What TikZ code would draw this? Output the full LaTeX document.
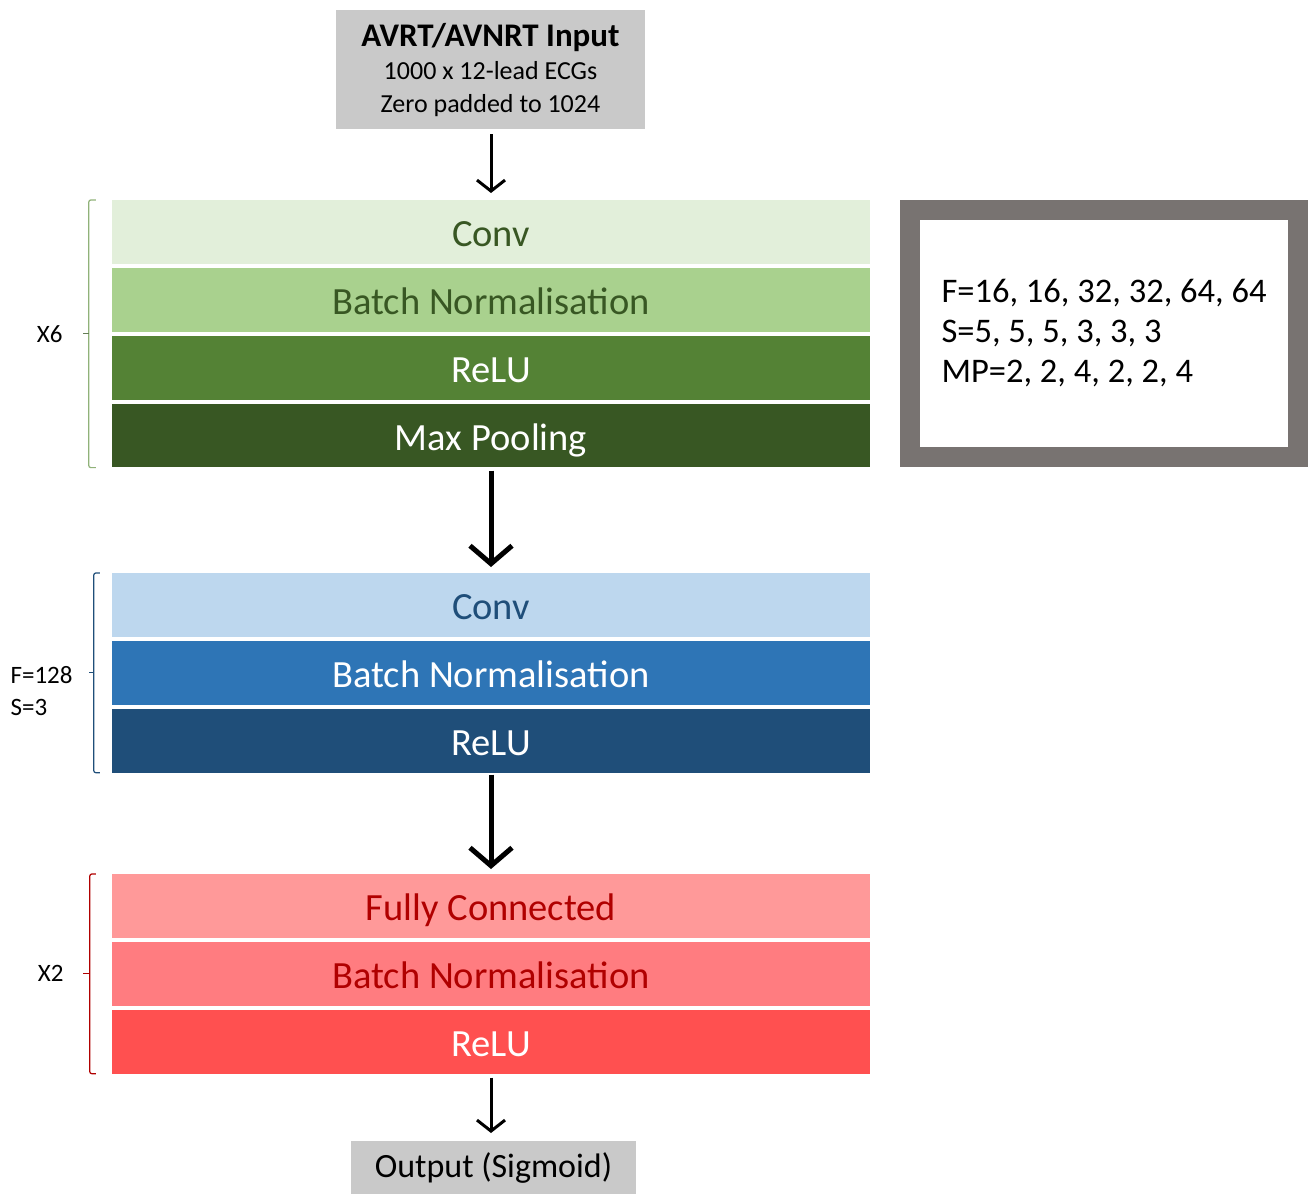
\documentclass[tikz,border=0pt]{standalone}
\usepackage{fontspec}
\setmainfont{Carlito}
\usetikzlibrary{arrows.meta, positioning, calc}
\definecolor{LightGreen}{HTML}{E2EFDA}
\definecolor{MidGreen}{HTML}{A9D18E}
\definecolor{DeepGreen}{HTML}{548235}
\definecolor{DarkGreen}{HTML}{385723}
\definecolor{LightBlue}{HTML}{BDD7EE}
\definecolor{MidBlue}{HTML}{2E75B6}
\definecolor{DarkBlue}{HTML}{1F4E79}
\definecolor{LightRed}{HTML}{FF9999}
\definecolor{MidRed}{HTML}{FF7C80}
\definecolor{DeepRed}{HTML}{FF5050}
\definecolor{DarkRed}{HTML}{B00000}
\definecolor{BoxGrey}{HTML}{C9C9C9}
\definecolor{FrameGrey}{HTML}{787371}

\begin{document}
\begin{tikzpicture}[
    x=1pt, y=-1pt,
    node distance=4pt,
    layer/.style={minimum width=758pt, minimum height=63.5pt, inner sep=0pt,
        text height=31pt, text depth=2pt, font=\fontsize{38.5}{45}\selectfont},
    io/.style={fill=BoxGrey, inner sep=0pt, align=center},
    side/.style={font=\fontsize{25}{32}\selectfont, align=left, inner sep=0pt},
    brace/.style={line width=1.2pt, rounded corners=2pt},
    thin/.style={-{Straight Barb[length=11pt, width=28pt]}, line width=3pt},
    thick/.style={-{Straight Barb[length=18pt, width=42pt]}, line width=5pt},
]
\useasboundingbox (0,0) rectangle (1315,1194);

% input
\node[io, minimum width=309pt, minimum height=119pt, anchor=north,
      font=\fontsize{26}{33}\selectfont] (inp) at (490.5,10)
    {{\fontsize{33}{36}\selectfont\bfseries AVRT/AVNRT Input}\\
     1000 x 12-lead ECGs\\
     Zero padded to 1024};

% convolution block x6
\node[layer, fill=LightGreen, text=DarkGreen, anchor=north] (gconv) at (491,200) {Conv};
\node[layer, fill=MidGreen, text=DarkGreen, below=of gconv] (gbn) {Batch Normalisation};
\node[layer, fill=DeepGreen, text=white, below=of gbn] (grelu) {ReLU};
\node[layer, fill=DarkGreen, text=white, below=of grelu] (gpool) {Max Pooling};

% filter / stride / pooling values
\node[draw=FrameGrey, line width=20pt, minimum width=388pt, minimum height=247pt,
      font=\fontsize{34.5}{40}\selectfont, align=left, anchor=north west] (params) at (900,200)
    {F=16, 16, 32, 32, 64, 64\\S=5, 5, 5, 3, 3, 3\\MP=2, 2, 4, 2, 2, 4};

% final convolution
\node[layer, fill=LightBlue, text=DarkBlue, anchor=north] (bconv) at (491,573) {Conv};
\node[layer, fill=MidBlue, text=white, below=of bconv] (bbn) {Batch Normalisation};
\node[layer, fill=DarkBlue, text=white, below=of bbn] (brelu) {ReLU};

% dense block x2
\node[layer, fill=LightRed, text=DarkRed, anchor=north] (rfc) at (491,874) {Fully Connected};
\node[layer, fill=MidRed, text=DarkRed, below=of rfc] (rbn) {Batch Normalisation};
\node[layer, fill=DeepRed, text=white, below=of rbn] (rrelu) {ReLU};

% output
\node[io, minimum width=285pt, minimum height=53pt, anchor=north,
      font=\fontsize{34}{40}\selectfont] (out) at (493.5,1141) {Output (Sigmoid)};

% arrows
\draw[thin, shorten <=5pt, shorten >=7pt] (inp.south -| gconv.north) -- (gconv.north);
\draw[thick, shorten <=3pt, shorten >=6pt] (gpool) -- (bconv);
\draw[thick, shorten <=2pt, shorten >=5pt] (brelu) -- (rfc);
\draw[thin, shorten <=4pt, shorten >=8pt] (rrelu.south) -- (rrelu.south |- out.north);

% brackets
\draw[brace, MidGreen!85!black] ([xshift=-16pt]gconv.north west) -- ++(-7,0)
    -- ([xshift=-23pt]gpool.south west) -- ++(7,0);
\coordinate (gtick) at ($([xshift=-23pt]gconv.north west)!0.5!([xshift=-23pt]gpool.south west)$);
\draw[brace, MidGreen!60!black] (gtick) -- ++(-6,0);
\node[side, left=26pt of gtick] (grep) {X6};

\draw[brace, DarkBlue] ([xshift=-12pt]bconv.north west) -- ++(-6,0)
    -- ([xshift=-18pt]brelu.south west) -- ++(6,0);
\coordinate (btick) at ($([xshift=-18pt]bconv.north west)!0.5!([xshift=-18pt]brelu.south west)$);
\draw[brace, DarkBlue] (btick) -- ++(-5,0);
\node[side, left=21pt of btick, yshift=-18pt] (bpar) {F=128\\S=3};

\draw[brace, DarkRed] ([xshift=-16pt]rfc.north west) -- ++(-6,0)
    -- ([xshift=-22pt]rrelu.south west) -- ++(6,0);
\coordinate (rtick) at ($([xshift=-22pt]rfc.north west)!0.5!([xshift=-22pt]rrelu.south west)$);
\draw[brace, DarkRed] (rtick) -- ++(-7,0);
\node[side, left=26pt of rtick] (rrep) {X2};

\end{tikzpicture}
\end{document}
